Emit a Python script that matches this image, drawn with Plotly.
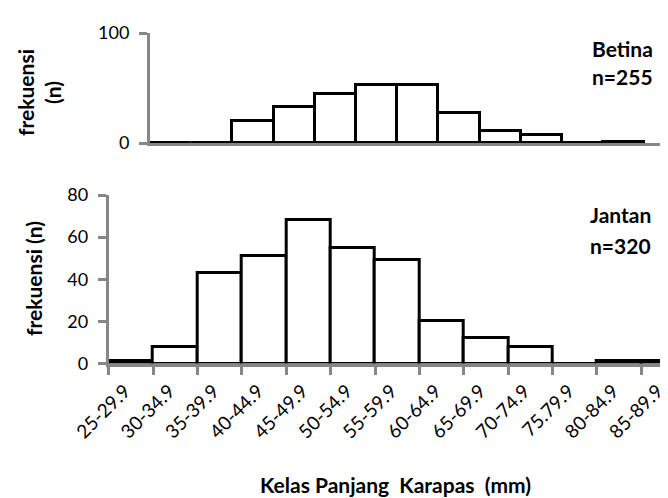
import plotly.graph_objects as go

categories = ["25-29.9", "30-34.9", "35-39.9", "40-44.9", "45-49.9", "50-54.9",
              "55-59.9", "60-64.9", "65-69.9", "70-74.9", "75.79.9", "80-84.9", "85-89.9"]
betina = [0, 0, 0, 20, 33, 45, 53, 53, 27, 11, 7, 0, 0.5]
jantan = [1, 8, 43, 51, 68, 55, 49, 20, 12, 8, 0, 1, 1]
betina_ticks = [0, 100]
jantan_ticks = [0, 20, 40, 60, 80]

W, H = 668, 498
FONT = "Lato"
AX = "#868686"

fig = go.Figure()
bar_style = dict(marker=dict(color="white", line=dict(color="black", width=3)), showlegend=False,
                 hoverinfo="skip")
fig.add_trace(go.Bar(x=categories, y=betina, xaxis="x", yaxis="y", **bar_style))
fig.add_trace(go.Bar(x=categories, y=jantan, xaxis="x2", yaxis="y2", **bar_style))

def px(x):
    return x / W

def py(y):
    return (H - y) / H

common_y = dict(showgrid=False, zeroline=False, showline=True, linecolor=AX, linewidth=3,
                ticks="outside", ticklen=8, tickwidth=3, tickcolor=AX, automargin=False,
                tickfont=dict(family=FONT, size=18, color="black"), ticklabelstandoff=6)

fig.update_layout(
    template="none",
    width=W, height=H, margin=dict(l=0, r=0, t=0, b=0, autoexpand=False),
    paper_bgcolor="white", plot_bgcolor="white", bargap=0,
    font=dict(family=FONT, color="black"),
    xaxis=dict(domain=[px(142), 1], anchor="y", type="category", range=[0.5, 13.27],
               showgrid=False, zeroline=False, showline=True, linecolor=AX, linewidth=3,
               ticks="", showticklabels=False, automargin=False),
    yaxis=dict(domain=[py(135), py(25)], anchor="x", range=[0, 100],
               tickvals=betina_ticks, **common_y),
    xaxis2=dict(domain=[px(100.7), 1], anchor="y2", type="category", range=[-0.5, 12.28],
                showgrid=False, zeroline=False, showline=True, linecolor=AX, linewidth=3,
                ticks="outside", ticklen=8, tickwidth=3, tickcolor=AX, tickson="boundaries",
                tickangle=-45, automargin=False, ticklabelstandoff=6, ticklabelshift=-6,
                tickfont=dict(family=FONT, size=19, color="black")),
    yaxis2=dict(domain=[py(355.5), py(187)], anchor="x2", range=[0, 80],
                tickvals=jantan_ticks, **common_y),
)

bold = dict(family=FONT, size=21, color="black", weight="bold")
ann = [
    dict(text="Betina", x=px(614), y=py(40)),
    dict(text="n=255", x=px(614), y=py(68)),
    dict(text="Jantan", x=px(612), y=py(207)),
    dict(text="n=320", x=px(612), y=py(237)),
    dict(text="frekuensi<br>(n)", x=px(31), y=py(85), textangle=-90),
    dict(text="frekuensi (n)", x=px(25), y=py(271), textangle=-90),
    dict(text="Kelas Panjang\u00a0 Karapas\u00a0 (mm)", x=px(387), y=py(476)),
]
for a in ann:
    fig.add_annotation(xref="paper", yref="paper", showarrow=False, font=bold,
                       xanchor="center", yanchor="middle", **a)

fig.write_html("out.html")
